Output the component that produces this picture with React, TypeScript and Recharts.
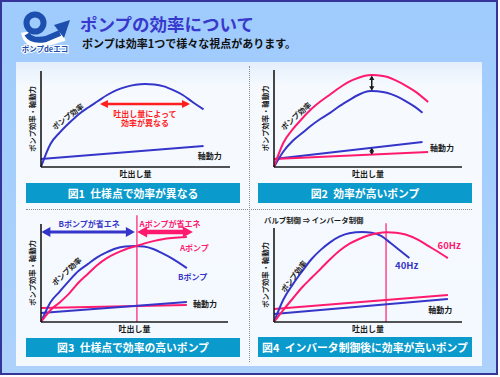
import React from "react";
import { LineChart, Line, XAxis, YAxis, ReferenceLine, ReferenceDot } from "recharts";

const BLUE = "#3535c9";
const PINK = "#ff1a6e";
const RED = "#ff1f1f";
const INK = "#1a1a1a";
const FONT = "'Noto Sans CJK JP', 'Noto Sans', sans-serif";

// 図1 仕様点で効率が異なる
const fig1EffFlow = [0, 5, 10, 15, 20, 25, 30, 35, 40, 45, 50, 55, 60, 65, 70, 75, 80, 86];
const fig1Eff = [0, 24, 36, 46, 55, 62, 68.5, 75, 80, 83.5, 85.7, 86.5, 86, 84, 80, 75, 68, 60];
const fig1PowerFlow = [0, 86];
const fig1Power = [8.3, 22];
const fig1SpanFlow = [32.5, 77.5];
const fig1Span = [65.6, 65.6];

// 図2 効率が高いポンプ
const fig2BlueFlow = [0, 5, 10, 15, 20, 25, 30, 35, 40, 45, 50, 52, 55, 60, 65, 70, 75, 79];
const fig2Blue = [0, 16, 27, 35, 43, 50, 56, 63, 69, 74.5, 78, 78.4, 78, 76.5, 73, 68, 62, 56];
const fig2RedFlow = [0, 5, 10, 15, 20, 25, 30, 35, 40, 45, 50, 52, 55, 60, 65, 70, 75, 82];
const fig2Red = [0, 25, 39, 50, 60, 68, 75, 82, 88, 92, 94.5, 94.8, 94.5, 93, 89, 84, 78, 67];
const fig2BluePowerFlow = [0, 79];
const fig2BluePower = [8.2, 25.8];
const fig2RedPowerFlow = [0, 82];
const fig2RedPower = [8.2, 15.5];
const fig2GapEffFlow = [52, 52];
const fig2GapEff = [80.2, 92.8];
const fig2GapPowerFlow = [52, 52];
const fig2GapPower = [14.2, 18.4];

// 図3 仕様点で効率の高いポンプ
const fig3BFlow = [0, 5, 10, 15, 20, 25, 30, 35, 40, 45, 50, 55, 60, 65, 70, 78];
const fig3B = [0, 20, 31, 42, 52, 59, 66, 71, 75, 77, 77.6, 77, 74.5, 70, 65, 55];
const fig3AFlow = [0, 5, 10, 15, 20, 25, 30, 35, 40, 45, 51, 55, 60, 65, 70, 78];
const fig3A = [0, 12, 20, 29, 40, 49, 58, 65, 70, 74, 77.6, 80, 82.5, 84.5, 85.7, 86.7];
const fig3APowerFlow = [0, 78];
const fig3APower = [14.3, 17.3];
const fig3BPowerFlow = [0, 78];
const fig3BPower = [9.2, 20.4];
const fig3SpecFlow = 51.3;
const fig3BSaveFlow = [1.8, 48.6];
const fig3ASaveFlow = [53.8, 78.8];
const fig3SaveLevel = [91.8, 91.8];

// 図4 インバータ制御後に効率が高いポンプ
const fig4HzFlow40 = [0, 5, 10, 15, 20, 25, 30, 35, 40, 47, 52, 57, 62, 67, 72];
const fig4Hz40 = [0, 24, 40, 54, 67, 77, 85, 91, 94.5, 95.7, 95, 91.5, 84, 76, 68];
const fig4HzFlow60 = [0, 5, 10, 15, 20, 25, 30, 35, 40, 45, 50, 55, 60, 65, 70, 77, 82, 87, 92.5];
const fig4Hz60 = [0, 13, 25, 37, 47, 57, 67, 76, 83, 88, 92, 94.5, 95.5, 95, 93, 87, 81, 75, 68];
const fig4PowerFlow = [0, 92.5];
const fig4Power60 = [13.8, 28.7];
const fig4Power40 = [8.5, 24.5];
const fig4SpecFlow = 59.6;

const zip = (xs: number[], ys: number[]) => xs.map((x, i) => ({ x, y: ys[i] }));

const arrowHead = (dirs: string[], color: string, w: number, s: number, len: number) => (p: any) => {
  const { cx, cy, index } = p;
  const d = dirs[index];
  let pts = "";
  if (d === "right") pts = `${cx + w},${cy} ${cx + w - len},${cy - s} ${cx + w - len},${cy + s}`;
  if (d === "left") pts = `${cx - w},${cy} ${cx - w + len},${cy - s} ${cx - w + len},${cy + s}`;
  if (d === "up") pts = `${cx},${cy - w} ${cx - s},${cy - w + len} ${cx + s},${cy - w + len}`;
  if (d === "down") pts = `${cx},${cy + w} ${cx - s},${cy + w - len} ${cx + s},${cy + w - len}`;
  return <polygon key={`h${index}`} points={pts} fill={color} />;
};

const textShape = (text: string, color: string, size: number, anchor = "start", angle = 0) => (p: any) => (
  <text
    x={p.cx}
    y={p.cy}
    fill={color}
    fontSize={size}
    fontWeight={700}
    fontFamily={FONT}
    textAnchor={anchor}
    dominantBaseline="central"
    transform={angle ? `rotate(${angle} ${p.cx} ${p.cy})` : undefined}
  >
    {text}
  </text>
);

const note = (key: string, x: number, y: number, text: string, color: string, size: number, anchor = "start", angle = 0) => (
  <ReferenceDot key={key} x={x} y={y} r={0} ifOverflow="visible" shape={textShape(text, color, size, anchor, angle)} />
);

const axes = () => [
  <XAxis
    key="x"
    type="number"
    dataKey="x"
    domain={[0, 100]}
    height={14}
    tick={false}
    tickLine={false}
    axisLine={{ stroke: INK, strokeWidth: 1.6 }}
    label={{ value: "吐出し量", position: "center", fill: INK, fontSize: 8, fontWeight: 700, fontFamily: FONT }}
  />,
  <YAxis
    key="y"
    type="number"
    domain={[0, 100]}
    width={18}
    tick={false}
    tickLine={false}
    axisLine={{ stroke: INK, strokeWidth: 1.6 }}
    label={{ value: "ポンプ効率・軸動力", angle: -90, position: "center", fill: INK, fontSize: 7.3, fontWeight: 700, fontFamily: FONT }}
  />,
];

const curve = (key: string, xs: number[], ys: number[], color: string, width = 2) => (
  <Line
    key={key}
    data={zip(xs, ys)}
    dataKey="y"
    type="monotone"
    stroke={color}
    strokeWidth={width}
    dot={false}
    activeDot={false}
    isAnimationActive={false}
  />
);

const arrow = (key: string, xs: number[], ys: number[], dirs: string[], color: string, w: number, s: number, len: number) => (
  <Line
    key={key}
    data={zip(xs, ys)}
    dataKey="y"
    type="linear"
    stroke={color}
    strokeWidth={w}
    dot={arrowHead(dirs, color, w, s, len)}
    activeDot={false}
    isAnimationActive={false}
  />
);

function Fig1() {
  return (
    <LineChart width={217} height={116} margin={{ top: 6, right: 10, bottom: 0, left: 0 }}>
      {axes()}
      {curve("eff", fig1EffFlow, fig1Eff, BLUE)}
      {curve("pow", fig1PowerFlow, fig1Power, BLUE)}
      {arrow("span", fig1SpanFlow, fig1Span, ["left", "right"], RED, 2.5, 4, 8)}
      {note("t1", 55, 56, "吐出し量によって", RED, 8, "middle")}
      {note("t2", 55, 46, "効率が異なる", RED, 8, "middle")}
      {note("t3", 14, 53, "ポンプ効率", INK, 7.5, "middle", -38)}
      {note("t4", 83, 12.5, "軸動力", INK, 8)}
    </LineChart>
  );
}

function Fig2() {
  return (
    <LineChart width={214} height={117} margin={{ top: 6, right: 8, bottom: 0, left: 0 }}>
      {axes()}
      {curve("pb", fig2BluePowerFlow, fig2BluePower, BLUE)}
      {curve("pr", fig2RedPowerFlow, fig2RedPower, PINK)}
      {curve("eb", fig2BlueFlow, fig2Blue, BLUE)}
      {curve("er", fig2RedFlow, fig2Red, PINK)}
      {arrow("ge", fig2GapEffFlow, fig2GapEff, ["down", "up"], INK, 1.5, 2.6, 4.5)}
      {arrow("gp", fig2GapPowerFlow, fig2GapPower, ["down", "up"], INK, 1.5, 2.4, 3.5)}
      {note("t1", 11.5, 53, "ポンプ効率", INK, 7.5, "middle", -42)}
      {note("t2", 83, 20.6, "軸動力", INK, 8)}
    </LineChart>
  );
}

function Fig3() {
  return (
    <LineChart width={215} height={130} margin={{ top: 18, right: 10, bottom: 0, left: 0 }}>
      {axes()}
      <ReferenceLine
        segment={[{ x: fig3SpecFlow, y: 0 }, { x: fig3SpecFlow, y: 109 }]}
        stroke={PINK}
        strokeWidth={1.2}
        ifOverflow="visible"
      />
      {curve("pa", fig3APowerFlow, fig3APower, PINK)}
      {curve("pb", fig3BPowerFlow, fig3BPower, BLUE)}
      {curve("eb", fig3BFlow, fig3B, BLUE)}
      {curve("ea", fig3AFlow, fig3A, PINK)}
      {arrow("sb", fig3BSaveFlow, fig3SaveLevel, ["left", "right"], BLUE, 3, 5, 9)}
      {arrow("sa", fig3ASaveFlow, fig3SaveLevel, ["left", "right"], PINK, 4.5, 5.5, 10)}
      {note("t1", 25.7, 101, "Bポンプが省エネ", BLUE, 8, "middle")}
      {note("t2", 69, 101, "Aポンプが省エネ", PINK, 8, "middle")}
      {note("t3", 74.3, 76.5, "Aポンプ", PINK, 8)}
      {note("t4", 73.3, 46, "Bポンプ", BLUE, 8)}
      {note("t5", 81.3, 18.4, "軸動力", INK, 8)}
      {note("t6", 13.5, 52, "ポンプ効率", INK, 7.5, "middle", -43)}
    </LineChart>
  );
}

function Fig4() {
  return (
    <LineChart width={214} height={118} margin={{ top: 10, right: 8, bottom: 0, left: 0 }}>
      {axes()}
      <ReferenceLine
        segment={[{ x: fig4SpecFlow, y: 0 }, { x: fig4SpecFlow, y: 105 }]}
        stroke={PINK}
        strokeWidth={1.2}
        ifOverflow="visible"
      />
      {curve("p60", fig4PowerFlow, fig4Power60, PINK)}
      {curve("p40", fig4PowerFlow, fig4Power40, BLUE)}
      {curve("e40", fig4HzFlow40, fig4Hz40, BLUE)}
      {curve("e60", fig4HzFlow60, fig4Hz60, PINK)}
      {note("t1", 87, 82, "60Hz", PINK, 9.5)}
      {note("t2", 64.4, 60.6, "40Hz", BLUE, 9.5)}
      {note("t3", 82, 13.8, "軸動力", INK, 8)}
      {note("t4", 10.3, 49, "ポンプ効率", INK, 7.5, "middle", -53)}
    </LineChart>
  );
}

const abs = (left: number, top: number, extra: React.CSSProperties = {}): React.CSSProperties => ({
  position: "absolute",
  left,
  top,
  ...extra,
});

function TitleBar({ left, top, height, text }: { left: number; top: number; height: number; text: string }) {
  return (
    <div
      style={abs(left, top, {
        width: 214,
        height,
        background: "#0a9acb",
        color: "#fff",
        fontFamily: FONT,
        fontWeight: 700,
        fontSize: 10.8,
        lineHeight: `${height}px`,
        textAlign: "center",
        whiteSpace: "pre",
      })}
    >
      {text}
    </div>
  );
}

function Logo() {
  return (
    <svg style={abs(18, 6)} width={56} height={50}>
      <path d="M8 26 Q10 38 26 36 L46 30" stroke="#fff" strokeWidth={10} fill="none" />
      <circle cx={17} cy={17} r={8.5} stroke="#1d4fae" strokeWidth={6} fill="none" />
      <path d="M9 28 Q14 36 28 33 L42 27" stroke="#1d4fae" strokeWidth={6} fill="none" />
      <polygon points="52,14 36,19 46,32" fill="#1d4fae" />
      <text
        x={27}
        y={46}
        textAnchor="middle"
        fontSize={7.5}
        fontWeight={700}
        fontFamily={FONT}
        fill="#1d4fae"
        stroke="#fff"
        strokeWidth={2}
        paintOrder="stroke"
      >
        ポンプdeエコ
      </text>
    </svg>
  );
}

export default function App() {
  return (
    <div style={{ position: "absolute", left: 0, top: 0, width: 500, height: 377, background: "#fff" }}>
      <div
        style={abs(0, 0, {
          width: 498,
          height: 375,
          boxSizing: "border-box",
          border: "2px solid #34349a",
          background: "linear-gradient(to bottom, #9fcbfd, #acd2fc)",
        })}
      />
      <Logo />
      <div style={abs(80, 13, { fontFamily: FONT, fontWeight: 700, fontSize: 17.5, color: "#3838cc", lineHeight: "21px" })}>
        ポンプの効率について
      </div>
      <div style={abs(82, 36, { fontFamily: FONT, fontWeight: 700, fontSize: 11, color: "#111", lineHeight: "14px" })}>
        ポンプは効率1つで様々な視点があります。
      </div>
      <div
        style={abs(16, 62, {
          width: 466,
          height: 304,
          background: "linear-gradient(to bottom, #e4eefb 0%, #f6faff 8%, #f4f9ff 100%)",
        })}
      />
      <div style={abs(249, 66, { width: 0, height: 296, borderLeft: "1px dotted #8a8a8a" })} />
      <div style={abs(26, 209, { width: 446, height: 0, borderTop: "1px dotted #8a8a8a" })} />

      <div style={abs(23, 65)}><Fig1 /></div>
      <div style={abs(256, 64)}><Fig2 /></div>
      <div style={abs(23, 206)}><Fig3 /></div>
      <div style={abs(256, 218)}><Fig4 /></div>

      <div style={abs(264, 214, { fontFamily: FONT, fontWeight: 700, fontSize: 7.4, color: INK, lineHeight: "12px", whiteSpace: "nowrap" })}>
        バルブ制御 ⇒ インバータ制御
      </div>

      <TitleBar left={26} top={183} height={20} text={"図1\u2002仕様点で効率が異なる"} />
      <TitleBar left={258} top={183} height={20} text={"図2\u2002効率が高いポンプ"} />
      <TitleBar left={26} top={338} height={19} text={"図3\u2002仕様点で効率の高いポンプ"} />
      <TitleBar left={258} top={337} height={20} text={"図4\u2002インバータ制御後に効率が高いポンプ"} />
    </div>
  );
}
